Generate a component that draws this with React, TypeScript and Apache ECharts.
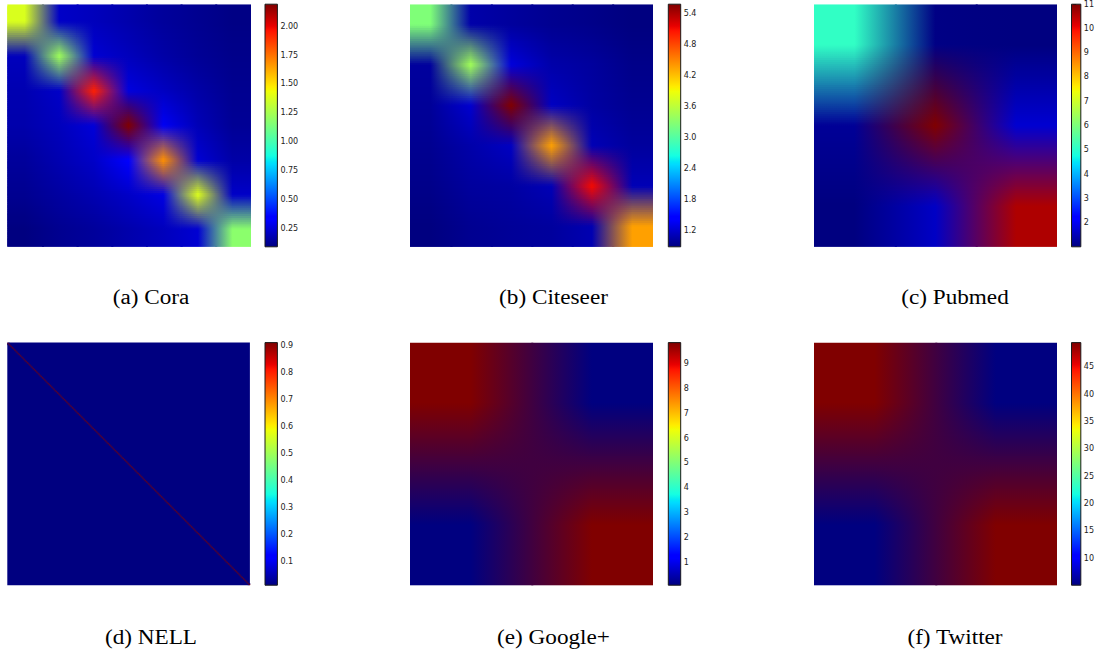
import React, { useEffect, useRef } from "react";
import * as echarts from "echarts";

// ---------------- Data ----------------
const coraMatrix: number[][] = [
  [1.38, 0.22, 0.2, 0.17, 0.14, 0.12, 0.1],
  [0.2, 1.23, 0.24, 0.2, 0.16, 0.13, 0.11],
  [0.18, 0.22, 1.93, 0.26, 0.21, 0.16, 0.12],
  [0.17, 0.2, 0.25, 2.19, 0.3, 0.19, 0.13],
  [0.14, 0.18, 0.22, 0.33, 1.68, 0.24, 0.16],
  [0.12, 0.15, 0.18, 0.22, 0.27, 1.39, 0.22],
  [0.09, 0.12, 0.14, 0.17, 0.2, 0.24, 1.18],
];
const coraRange = [0.09, 2.19];
const coraTicks = [0.25, 0.5, 0.75, 1.0, 1.25, 1.5, 1.75, 2.0];

const citeseerMatrix: number[][] = [
  [3.25, 1.05, 1.0, 0.95, 0.92, 0.88],
  [1.0, 3.44, 1.25, 1.05, 1.0, 0.92],
  [0.98, 1.2, 5.58, 1.15, 1.02, 0.95],
  [0.95, 1.05, 1.15, 4.36, 1.1, 1.0],
  [0.92, 1.0, 1.02, 1.1, 5.11, 1.1],
  [0.88, 0.95, 0.98, 1.0, 1.08, 4.36],
];
const citeseerRange = [0.88, 5.58];
const citeseerTicks = [1.2, 1.8, 2.4, 3.0, 3.6, 4.2, 4.8, 5.4];

const pubmedMatrix: number[][] = [
  [5.1, 1.05, 1.0],
  [1.2, 11.0, 1.7],
  [1.0, 1.6, 10.6],
];
const pubmedRange = [1.0, 11.0];
const pubmedTicks = [2, 3, 4, 5, 6, 7, 8, 9, 10, 11];

const nellClassCount = 210;
const nellDiagonalValue = 0.91;
const nellOffDiagonalValue = 0.013;
const nellRange = [0.013, 0.91];
const nellTicks = [0.1, 0.2, 0.3, 0.4, 0.5, 0.6, 0.7, 0.8, 0.9];

const googleMatrix: number[][] = [
  [9.84, 0.08],
  [0.08, 9.84],
];
const googleRange = [0.08, 9.84];
const googleTicks = [1, 2, 3, 4, 5, 6, 7, 8, 9];

const twitterMatrix: number[][] = [
  [49.4, 5.1],
  [5.1, 49.4],
];
const twitterRange = [5.1, 49.4];
const twitterTicks = [10, 15, 20, 25, 30, 35, 40, 45];

const captions = ["(a) Cora", "(b) Citeseer", "(c) Pubmed", "(d) NELL", "(e) Google+", "(f) Twitter"];

// ---------------- Colormap (jet) ----------------
type RGB = number[];
function piece(pts: number[][], t: number): number {
  if (t <= pts[0][0]) return pts[0][1];
  for (let i = 1; i < pts.length; i++) {
    if (t <= pts[i][0]) {
      const [x0, y0] = pts[i - 1];
      const [x1, y1] = pts[i];
      return y0 + ((y1 - y0) * (t - x0)) / (x1 - x0);
    }
  }
  return pts[pts.length - 1][1];
}
const JR = [[0, 0], [0.35, 0], [0.66, 1], [0.89, 1], [1, 0.5]];
const JG = [[0, 0], [0.125, 0], [0.375, 1], [0.64, 1], [0.91, 0], [1, 0]];
const JB = [[0, 0.5], [0.11, 1], [0.34, 1], [0.65, 0], [1, 0]];
function jet(t: number): RGB {
  const c = Math.max(0, Math.min(1, t));
  return [piece(JR, c) * 255, piece(JG, c) * 255, piece(JB, c) * 255];
}
const jetBreaks = [0, 0.11, 0.125, 0.34, 0.35, 0.375, 0.64, 0.65, 0.66, 0.89, 0.91, 1];
function rgb(c: RGB): string {
  return `rgb(${Math.round(c[0])},${Math.round(c[1])},${Math.round(c[2])})`;
}
function mix(a: RGB, b: RGB, t: number): RGB {
  return [a[0] + (b[0] - a[0]) * t, a[1] + (b[1] - a[1]) * t, a[2] + (b[2] - a[2]) * t];
}

// ---------------- Series builders ----------------
// Heatmap cell drawn with bilinear (RGB) smoothing towards its neighbours,
// the way an image with bilinear interpolation looks.
function smoothCellSeries(
  n: number,
  getColor: (r: number, c: number) => RGB,
  data: number[][],
  axisIndex: number,
  extend: number
) {
  return {
    type: "custom",
    xAxisIndex: axisIndex,
    yAxisIndex: axisIndex,
    silent: true,
    clip: true,
    data,
    encode: { x: 0, y: 1 },
    renderItem: (_params: any, api: any) => {
      const c = api.value(0);
      const r = api.value(1);
      const center = api.coord([c, r]);
      const size = api.size([1, 1]);
      const w = size[0];
      const h = size[1];
      const kL = Math.max(c - 1, 0);
      const kR = Math.min(c + 1, n - 1);
      const children: any[] = [];
      const S = Math.max(1, Math.ceil(h / 2 / 2));
      const sh = h / 2 / S;
      const xL = center[0] - w / 2;
      const xR = center[0] + w / 2;
      const strip = (rn: number, s: number, y0: number) => {
        const f = ((s + 0.5) / S) * 0.5;
        const colAt = (k: number) => mix(getColor(r, k), getColor(rn, k), f);
        const cC = colAt(c);
        const cL = mix(cC, colAt(kL), 0.5);
        const cR = mix(cC, colAt(kR), 0.5);
        children.push({
          type: "rect",
          shape: { x: xL, y: y0, width: w + extend, height: sh + extend },
          style: {
            fill: new echarts.graphic.LinearGradient(
              xL,
              0,
              xR,
              0,
              [
                { offset: 0, color: rgb(cL) },
                { offset: 0.5, color: rgb(cC) },
                { offset: 1, color: rgb(cR) },
              ],
              true
            ),
          },
        });
      };
      // upper half: from the cell's top edge down to its centre
      const up = Math.max(r - 1, 0);
      for (let s = S - 1; s >= 0; s--) strip(up, s, center[1] - (s + 1) * sh);
      // lower half: from the centre down to the bottom edge
      const dn = Math.min(r + 1, n - 1);
      for (let s = 0; s < S; s++) strip(dn, s, center[1] + s * sh);
      return { type: "group", children };
    },
  };
}

function matrixSeries(matrix: number[][], range: number[], axisIndex: number) {
  const n = matrix.length;
  const colors = matrix.map((row) => row.map((v) => jet((v - range[0]) / (range[1] - range[0]))));
  const data: number[][] = [];
  matrix.forEach((row, r) => row.forEach((v, c) => data.push([c, r, v])));
  return smoothCellSeries(n, (r, c) => colors[r][c], data, axisIndex, 2);
}

function colorbarSeries(range: number[], axisIndex: number) {
  const stops = jetBreaks.map((t) => ({ offset: t, color: rgb(jet(t)) }));
  return {
    type: "custom",
    xAxisIndex: axisIndex,
    yAxisIndex: axisIndex,
    silent: true,
    data: [[0, range[0], range[1]]],
    renderItem: (_params: any, api: any) => {
      const top = api.coord([0, api.value(2)]);
      const bottom = api.coord([0, api.value(1)]);
      const w = api.size([1, 0])[0];
      return {
        type: "rect",
        shape: { x: top[0] - w / 2, y: top[1], width: w, height: bottom[1] - top[1] },
        style: {
          fill: new echarts.graphic.LinearGradient(0, 1, 0, 0, stops),
          stroke: "#1a1a1a",
          lineWidth: 1,
        },
      };
    },
  };
}

// ---------------- Layout ----------------
const heatLeft = [7.3, 410, 814];
const cbLeft = [265, 668.3, 1071.5];
const rowTop = [4.2, 342.6];
const heatSize = 242.6;
const cbWidth = 12.4;
const capX = [151, 553.5, 955];
const capY = [298, 638];

function buildOption() {
  const panels = [
    { matrix: coraMatrix, range: coraRange, ticks: coraTicks, dec: 2 },
    { matrix: citeseerMatrix, range: citeseerRange, ticks: citeseerTicks, dec: 1 },
    { matrix: pubmedMatrix, range: pubmedRange, ticks: pubmedTicks, dec: 0 },
    { matrix: null as number[][] | null, range: nellRange, ticks: nellTicks, dec: 1 },
    { matrix: googleMatrix, range: googleRange, ticks: googleTicks, dec: 0 },
    { matrix: twitterMatrix, range: twitterRange, ticks: twitterTicks, dec: 0 },
  ];
  const grid: any[] = [];
  const xAxis: any[] = [];
  const yAxis: any[] = [];
  const series: any[] = [];
  const graphic: any[] = [];

  panels.forEach((p, i) => {
    const col = i % 3;
    const row = Math.floor(i / 3);
    const n = p.matrix ? p.matrix.length : nellClassCount;
    const hi = 2 * i;
    const ci = 2 * i + 1;
    grid.push({ left: heatLeft[col], top: rowTop[row], width: heatSize, height: heatSize });
    grid.push({ left: cbLeft[col], top: rowTop[row], width: cbWidth, height: heatSize });
    xAxis.push({ type: "value", gridIndex: hi, min: -0.5, max: n - 0.5, show: false });
    yAxis.push({ type: "value", gridIndex: hi, min: -0.5, max: n - 0.5, inverse: true, show: false });
    xAxis.push({ type: "value", gridIndex: ci, min: -0.5, max: 0.5, show: false });
    yAxis.push({
      type: "value",
      gridIndex: ci,
      min: p.range[0],
      max: p.range[1],
      position: "right",
      axisLine: { show: false },
      splitLine: { show: false },
      axisTick: {
        show: true,
        inside: true,
        length: 3,
        lineStyle: { color: "#000", width: 1 },
        customValues: p.ticks,
      },
      axisLabel: {
        show: true,
        margin: 3,
        fontSize: 8,
        fontFamily: "DejaVu Sans",
        color: "#222",
        customValues: p.ticks,
        formatter: (v: number) => v.toFixed(p.dec),
      },
    });

    if (p.matrix) {
      series.push(matrixSeries(p.matrix, p.range, hi));
    } else {
      const norm = (v: number) => (v - p.range[0]) / (p.range[1] - p.range[0]);
      const offColor = jet(norm(nellOffDiagonalValue));
      const diagColor = jet(norm(nellDiagonalValue));
      series.push({
        type: "custom",
        xAxisIndex: hi,
        yAxisIndex: hi,
        silent: true,
        data: [[0, 0, nellOffDiagonalValue]],
        renderItem: (_params: any, api: any) => {
          const p0 = api.coord([-0.5, -0.5]);
          const p1 = api.coord([n - 0.5, n - 0.5]);
          return {
            type: "rect",
            shape: {
              x: Math.min(p0[0], p1[0]),
              y: Math.min(p0[1], p1[1]),
              width: Math.abs(p1[0] - p0[0]),
              height: Math.abs(p1[1] - p0[1]),
            },
            style: { fill: rgb(offColor) },
          };
        },
      });
      // diagonal cells and their direct neighbours (the only cells whose
      // smoothed colour differs from the uniform background)
      const bandData: number[][] = [];
      for (let k = 0; k < nellClassCount; k++) {
        for (let c = k - 1; c <= k + 1; c++) {
          if (c < 0 || c >= nellClassCount) continue;
          bandData.push([c, k, c === k ? nellDiagonalValue : nellOffDiagonalValue]);
        }
      }
      series.push(
        smoothCellSeries(n, (r, c) => (r === c ? diagColor : offColor), bandData, hi, 0.3)
      );
    }
    series.push(colorbarSeries(p.range, ci));

    graphic.push({
      type: "text",
      x: capX[col],
      y: capY[row],
      scaleX: 1.16,
      style: {
        text: captions[i],
        fontFamily: "Liberation Serif",
        fontSize: 20,
        fill: "#000",
        textAlign: "center",
        textVerticalAlign: "middle",
      },
    });
  });

  return {
    animation: false,
    backgroundColor: "#ffffff",
    grid,
    xAxis,
    yAxis,
    series,
    graphic,
  };
}

export default function App() {
  const ref = useRef<HTMLDivElement>(null);
  useEffect(() => {
    if (!ref.current) return;
    const chart = echarts.init(ref.current, null, { renderer: "svg" });
    chart.setOption(buildOption() as any);
    return () => chart.dispose();
  }, []);
  return (
    <div
      ref={ref}
      style={{ position: "fixed", left: 0, top: 0, width: 1097, height: 653 }}
    />
  );
}
